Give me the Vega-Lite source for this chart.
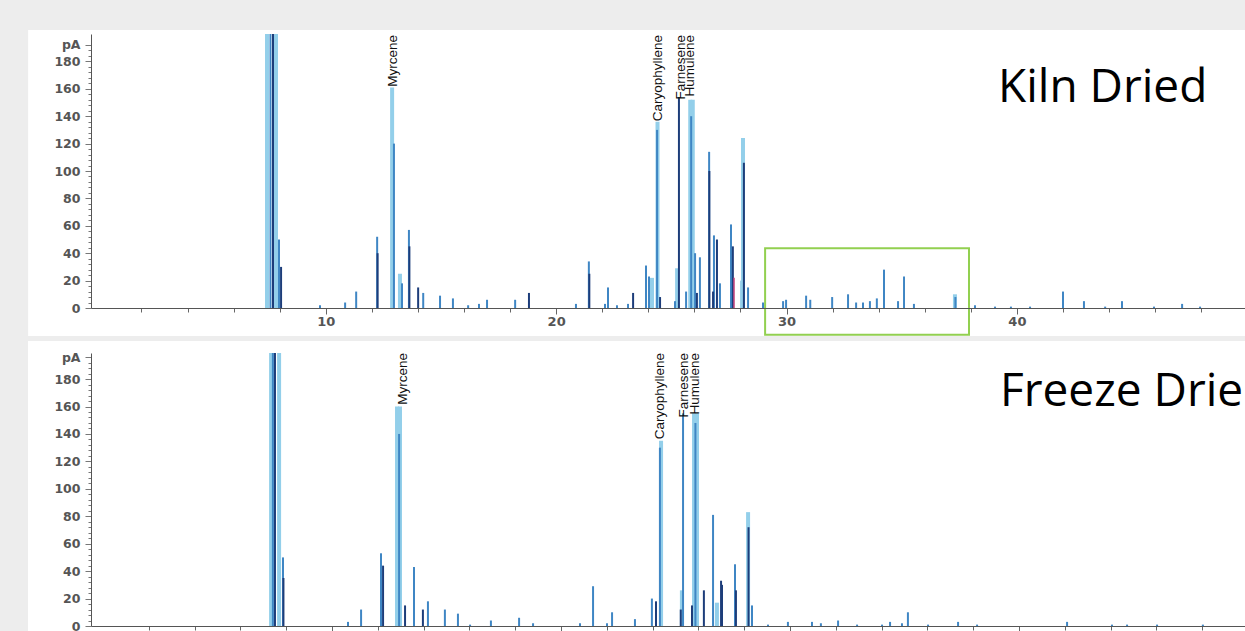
{
  "$schema": "https://vega.github.io/schema/vega-lite/v6.json",
  "background": "#ededed",
  "padding": {"left": 28, "top": 30, "right": 0, "bottom": 0},
  "spacing": 4,
  "bounds": "full",
  "datasets": {
    "kiln": [
      {"t":7.45,"h":230,"c":"L"},{"t":7.60,"h":230,"c":"M"},{"t":7.71,"h":230,"c":"D"},{"t":7.84,"h":230,"c":"L"},{"t":7.97,"h":50,"c":"M"},{"t":8.06,"h":30,"c":"D"},
      {"t":9.75,"h":2,"c":"M"},{"t":10.84,"h":4,"c":"M"},{"t":11.32,"h":12,"c":"M"},{"t":12.23,"h":52,"c":"M"},{"t":12.25,"h":40,"c":"D"},
      {"t":12.88,"h":161,"c":"L"},{"t":12.96,"h":120,"c":"M"},
      {"t":13.22,"h":25,"c":"L"},{"t":13.31,"h":18,"c":"M"},{"t":13.61,"h":57,"c":"M"},{"t":13.63,"h":45,"c":"D"},{"t":14.01,"h":15,"c":"D"},{"t":14.23,"h":11,"c":"M"},{"t":14.96,"h":9,"c":"M"},{"t":15.52,"h":7,"c":"M"},{"t":16.18,"h":2,"c":"M"},{"t":16.65,"h":3,"c":"M"},{"t":17.00,"h":6,"c":"M"},{"t":18.22,"h":6,"c":"M"},{"t":18.82,"h":11,"c":"D"},
      {"t":20.86,"h":3,"c":"M"},{"t":21.42,"h":34,"c":"M"},{"t":21.44,"h":25,"c":"D"},{"t":22.12,"h":3,"c":"M"},{"t":22.25,"h":15,"c":"M"},{"t":22.64,"h":2,"c":"M"},{"t":23.12,"h":3,"c":"M"},{"t":23.34,"h":11,"c":"D"},
      {"t":23.90,"h":31,"c":"M"},{"t":24.03,"h":23,"c":"M"},{"t":24.16,"h":22,"c":"L"},{"t":24.40,"h":136,"c":"L"},{"t":24.38,"h":130,"c":"M"},{"t":24.51,"h":8,"c":"D"},
      {"t":25.16,"h":5,"c":"M"},{"t":25.25,"h":29,"c":"L"},{"t":25.33,"h":154,"c":"D"},{"t":25.64,"h":12,"c":"M"},
      {"t":25.82,"h":152,"c":"L"},{"t":25.93,"h":152,"c":"L"},{"t":25.86,"h":140,"c":"M"},
      {"t":26.03,"h":40,"c":"M"},{"t":26.11,"h":11,"c":"D"},{"t":26.24,"h":37,"c":"M"},{"t":26.64,"h":114,"c":"M"},{"t":26.65,"h":100,"c":"D"},{"t":26.81,"h":12,"c":"D"},{"t":26.85,"h":53,"c":"M"},{"t":26.98,"h":50,"c":"D"},{"t":27.11,"h":18,"c":"M"},
      {"t":27.59,"h":61,"c":"M"},{"t":27.67,"h":45,"c":"D"},{"t":27.72,"h":22,"c":"P"},{"t":28.07,"h":20,"c":"L"},{"t":28.11,"h":124,"c":"L"},{"t":28.15,"h":106,"c":"D"},{"t":28.33,"h":15,"c":"M"},{"t":28.98,"h":4,"c":"M"},
      {"t":29.85,"h":5,"c":"M"},{"t":29.98,"h":6,"c":"M"},{"t":30.85,"h":9,"c":"M"},{"t":31.03,"h":6,"c":"M"},{"t":31.98,"h":8,"c":"M"},{"t":32.67,"h":10,"c":"M"},{"t":33.02,"h":4,"c":"M"},{"t":33.32,"h":4,"c":"M"},{"t":33.62,"h":5,"c":"M"},{"t":33.92,"h":7,"c":"M"},{"t":34.23,"h":28,"c":"M"},{"t":34.84,"h":5,"c":"M"},{"t":35.10,"h":23,"c":"M"},{"t":35.53,"h":3,"c":"M"},{"t":37.31,"h":10,"c":"L"},{"t":37.33,"h":8,"c":"M"},
      {"t":38.18,"h":2,"c":"M"},{"t":39.05,"h":1,"c":"M"},{"t":39.74,"h":1,"c":"M"},{"t":40.57,"h":1,"c":"M"},{"t":42.00,"h":12,"c":"M"},{"t":42.91,"h":5,"c":"M"},{"t":43.83,"h":1,"c":"M"},{"t":44.56,"h":5,"c":"M"},{"t":45.95,"h":1,"c":"M"},{"t":47.17,"h":3,"c":"M"},{"t":47.95,"h":1,"c":"M"}
    ],
    "freeze": [
      {"t":7.34,"h":230,"c":"L"},{"t":7.42,"h":230,"c":"M"},{"t":7.51,"h":230,"c":"D"},{"t":7.69,"h":230,"c":"L"},{"t":7.86,"h":50,"c":"M"},{"t":7.88,"h":35,"c":"D"},
      {"t":10.70,"h":3,"c":"M"},{"t":11.27,"h":12,"c":"M"},{"t":12.14,"h":53,"c":"M"},{"t":12.23,"h":44,"c":"D"},
      {"t":12.84,"h":160,"c":"L"},{"t":12.97,"h":160,"c":"L"},{"t":12.93,"h":140,"c":"M"},
      {"t":13.19,"h":15,"c":"D"},{"t":13.58,"h":43,"c":"M"},{"t":13.97,"h":12,"c":"D"},{"t":14.19,"h":18,"c":"M"},{"t":14.93,"h":12,"c":"M"},{"t":15.50,"h":9,"c":"M"},{"t":16.03,"h":1,"c":"M"},{"t":16.94,"h":4,"c":"M"},{"t":18.17,"h":6,"c":"M"},{"t":18.78,"h":2,"c":"M"},
      {"t":20.83,"h":2,"c":"M"},{"t":21.40,"h":29,"c":"M"},{"t":22.01,"h":2,"c":"M"},{"t":22.23,"h":10,"c":"M"},{"t":23.23,"h":5,"c":"M"},{"t":23.97,"h":20,"c":"M"},{"t":24.15,"h":18,"c":"D"},
      {"t":24.37,"h":135,"c":"L"},{"t":24.32,"h":130,"c":"M"},
      {"t":25.23,"h":12,"c":"D"},{"t":25.28,"h":26,"c":"L"},{"t":25.33,"h":155,"c":"M"},{"t":25.72,"h":15,"c":"D"},
      {"t":25.81,"h":155,"c":"L"},{"t":25.94,"h":155,"c":"L"},{"t":25.87,"h":148,"c":"M"},
      {"t":26.24,"h":26,"c":"D"},{"t":26.64,"h":81,"c":"M"},{"t":26.81,"h":17,"c":"L"},{"t":26.99,"h":33,"c":"D"},{"t":27.03,"h":30,"c":"D"},{"t":27.60,"h":45,"c":"M"},{"t":27.64,"h":26,"c":"D"},{"t":28.17,"h":83,"c":"L"},{"t":28.19,"h":72,"c":"D"},{"t":28.34,"h":15,"c":"M"},
      {"t":29.04,"h":1,"c":"M"},{"t":29.91,"h":3,"c":"M"},{"t":30.96,"h":3,"c":"M"},{"t":31.35,"h":2,"c":"M"},{"t":32.10,"h":4,"c":"M"},{"t":32.93,"h":1,"c":"M"},{"t":34.02,"h":1,"c":"M"},{"t":34.37,"h":3,"c":"M"},{"t":34.89,"h":2,"c":"M"},{"t":35.15,"h":10,"c":"M"},{"t":36.03,"h":1,"c":"M"},{"t":37.34,"h":3,"c":"M"},{"t":38.17,"h":1,"c":"M"},{"t":42.10,"h":3,"c":"M"},{"t":44.06,"h":1,"c":"M"},{"t":44.72,"h":1,"c":"M"},{"t":46.03,"h":1,"c":"M"},{"t":48.03,"h":1,"c":"M"}
    ],
    "labels": [
      {"p":"K","t":12.92,"h":199.3,"label":"Myrcene"},
      {"p":"K","t":24.42,"h":199.3,"label":"Caryophyllene"},
      {"p":"K","t":25.42,"h":199.3,"label":"Farnesene"},
      {"p":"K","t":25.81,"h":199.3,"label":"Humulene"},
      {"p":"F","t":13.10,"h":199,"label":"Myrcene"},
      {"p":"F","t":24.32,"h":199,"label":"Caryophyllene"},
      {"p":"F","t":25.37,"h":199,"label":"Farnesene"},
      {"p":"F","t":25.85,"h":199,"label":"Humulene"}
    ],
    "titles": [
      {"p":"K","t":39.18,"h":150.4,"label":"Kiln Dried"},
      {"p":"F","t":39.17,"h":160.3,"label":"Freeze Dried"}
    ],
    "frames": [
      {"p":"K","t":-2.92,"t2":49.9,"h":-20.5,"h2":202.9},
      {"p":"F","t":-3.275,"t2":49.87,"h":-4.37,"h2":207.7}
    ],
    "boxes": [
      {"t":29.07,"t2":37.92,"h":-19.5,"h2":43.7}
    ]
  },
  "vconcat": [
    {
      "width": 1154,
      "height": 274,
      "encoding": {
        "x": {"field":"t","type":"quantitative","scale":{"domain":[-0.19,49.9],"nice":false,"zero":false},
          "axis":{"title":null,"grid":false,"zindex":1,"values":[2,4,6,8,10,12,14,16,18,20,22,24,26,28,30,32,34,36,38,40,42,44,46,48],
            "labelExpr":"datum.value % 10 === 0 ? datum.label : ''","labelOverlap":false,"labelFlush":false,
            "tickSize":{"condition":{"test":"datum.value % 10 === 0","value":6},"value":4},
            "labelPadding":1,"labelFont":"DejaVu Sans","labelFontWeight":"bold","labelFontSize":13,"labelColor":"#555555","domainColor":"#555555","tickColor":"#666666"}},
        "y": {"field":"h","type":"quantitative","scale":{"domain":[0,200],"nice":false},
          "axis":{"title":null,"grid":false,"zindex":1,"values":[0,4,8,12,16,20,24,28,32,36,40,44,48,52,56,60,64,68,72,76,80,84,88,92,96,100,104,108,112,116,120,124,128,132,136,140,144,148,152,156,160,164,168,172,176,180,184,188,192],
            "labelExpr":"datum.value === 192 ? 'pA' : (datum.value % 20 === 0 ? datum.label : '')","labelOverlap":false,"labelFlush":false,
            "tickSize":{"condition":{"test":"datum.value % 20 === 0 || datum.value === 192","value":6},"value":3},
            "labelPadding":5,"labelFont":"DejaVu Sans","labelFontWeight":"bold","labelFontSize":12.5,"labelColor":"#555555","domainColor":"#555555","tickColor":"#777777"}}
      },
      "layer": [
        {"data":{"name":"frames"},"transform":[{"filter":"datum.p === 'K'"}],"mark":{"type":"rect","fill":"#ffffff"},"encoding":{"x2":{"field":"t2"},"y2":{"field":"h2"}}},
        {"data":{"name":"kiln"},"transform":[{"filter":"datum.c === 'L'"}],"mark":{"type":"rule","color":"#93cfea","strokeWidth":4,"clip":true},"encoding":{"y2":{"datum":0}}},
        {"data":{"name":"kiln"},"transform":[{"filter":"datum.c === 'M'"}],"mark":{"type":"rule","color":"#3f86c4","strokeWidth":2,"clip":true},"encoding":{"y2":{"datum":0}}},
        {"data":{"name":"kiln"},"transform":[{"filter":"datum.c === 'D'"}],"mark":{"type":"rule","color":"#1d3d7a","strokeWidth":2,"clip":true},"encoding":{"y2":{"datum":0}}},
        {"data":{"name":"kiln"},"transform":[{"filter":"datum.c === 'P'"}],"mark":{"type":"rule","color":"#c2407a","strokeWidth":1.5,"clip":true},"encoding":{"y2":{"datum":0}}},
        {"data":{"name":"labels"},"transform":[{"filter":"datum.p === 'K'"}],"mark":{"type":"text","angle":270,"align":"right","baseline":"middle","font":"Liberation Sans","fontSize":13.5,"color":"#111111"},"encoding":{"text":{"field":"label"}}},
        {"data":{"name":"titles"},"transform":[{"filter":"datum.p === 'K'"}],"mark":{"type":"text","align":"left","baseline":"alphabetic","font":"Open Sans","fontSize":46,"color":"#000000","clip":true},"encoding":{"text":{"field":"label"}}},
        {"data":{"name":"boxes"},"mark":{"type":"rect","filled":false,"color":"#92d050","strokeWidth":2},"encoding":{"x2":{"field":"t2"},"y2":{"field":"h2"}}}
      ]
    },
    {
      "width": 1154,
      "height": 273,
      "encoding": {
        "x": {"field":"t","type":"quantitative","scale":{"domain":[-0.524,49.87],"nice":false,"zero":false},
          "axis":{"title":null,"grid":false,"zindex":1,"values":[2,4,6,8,10,12,14,16,18,20,22,24,26,28,30,32,34,36,38,40,42,44,46,48],
            "labels":false,
            "tickSize":{"condition":{"test":"datum.value % 10 === 0","value":6},"value":4},
            "domainColor":"#555555","tickColor":"#666666"}},
        "y": {"field":"h","type":"quantitative","scale":{"domain":[0,199],"nice":false},
          "axis":{"title":null,"grid":false,"zindex":1,"values":[0,4,8,12,16,20,24,28,32,36,40,44,48,52,56,60,64,68,72,76,80,84,88,92,96,100,104,108,112,116,120,124,128,132,136,140,144,148,152,156,160,164,168,172,176,180,184,188,192,196],
            "labelExpr":"datum.value === 196 ? 'pA' : (datum.value % 20 === 0 ? datum.label : '')","labelOverlap":false,"labelFlush":false,
            "tickSize":{"condition":{"test":"datum.value % 20 === 0 || datum.value === 196","value":6},"value":3},
            "labelPadding":5,"labelFont":"DejaVu Sans","labelFontWeight":"bold","labelFontSize":12.5,"labelColor":"#555555","domainColor":"#555555","tickColor":"#777777"}}
      },
      "layer": [
        {"data":{"name":"frames"},"transform":[{"filter":"datum.p === 'F'"}],"mark":{"type":"rect","fill":"#ffffff"},"encoding":{"x2":{"field":"t2"},"y2":{"field":"h2"}}},
        {"data":{"name":"freeze"},"transform":[{"filter":"datum.c === 'L'"}],"mark":{"type":"rule","color":"#93cfea","strokeWidth":4,"clip":true},"encoding":{"y2":{"datum":0}}},
        {"data":{"name":"freeze"},"transform":[{"filter":"datum.c === 'M'"}],"mark":{"type":"rule","color":"#3f86c4","strokeWidth":2,"clip":true},"encoding":{"y2":{"datum":0}}},
        {"data":{"name":"freeze"},"transform":[{"filter":"datum.c === 'D'"}],"mark":{"type":"rule","color":"#1d3d7a","strokeWidth":2,"clip":true},"encoding":{"y2":{"datum":0}}},
        {"data":{"name":"labels"},"transform":[{"filter":"datum.p === 'F'"}],"mark":{"type":"text","angle":270,"align":"right","baseline":"middle","font":"Liberation Sans","fontSize":13.5,"color":"#111111"},"encoding":{"text":{"field":"label"}}},
        {"data":{"name":"titles"},"transform":[{"filter":"datum.p === 'F'"}],"mark":{"type":"text","align":"left","baseline":"alphabetic","font":"Open Sans","fontSize":46,"color":"#000000","clip":true},"encoding":{"text":{"field":"label"}}}
      ]
    }
  ],
  "config": {"view": {"stroke": null}}
}
